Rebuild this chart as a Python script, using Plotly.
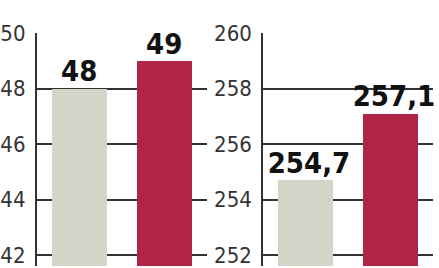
import plotly.graph_objects as go

categories = ["A", "B"]
left_values = [48, 49]
left_labels = ["48", "49"]
right_values = [254.7, 257.1]
right_labels = ["254,7", "257,1"]
left_ticks = [42, 44, 46, 48, 50]
right_ticks = [252, 254, 256, 258, 260]
colors = ["#d4d5c9", "#b02545"]

W, H = 439, 268
fig = go.Figure()
xs = [0, 1]
for i, (vals, labs) in enumerate([(left_values, left_labels), (right_values, right_labels)]):
    xa = "x" if i == 0 else "x2"
    ya = "y" if i == 0 else "y2"
    fig.add_trace(go.Bar(x=xs, y=vals, width=0.64, marker=dict(color=colors, line=dict(width=0)),
                         xaxis=xa, yaxis=ya, showlegend=False, hoverinfo="skip"))
    fig.add_trace(go.Scatter(x=[x + (0.04 if i == 1 else 0) for x in xs], y=vals, mode="text", text=labs,
                             textposition="top center", cliponaxis=False,
                             textfont=dict(family="DejaVu Sans Condensed", size=29, color="#111111", weight="bold"),
                             xaxis=xa, yaxis=ya, showlegend=False, hoverinfo="skip"))

top_px = 33
plot_h = H - top_px
scale = 28.0  # px per unit
common_y = dict(showgrid=True, gridcolor="#333333", gridwidth=1.5, showline=True, linecolor="#333333",
                linewidth=1.5, ticks="", zeroline=False, ticklabeloverflow="allow",
                tickfont=dict(family="DejaVu Sans Condensed", size=22, color="#333333", weight=300),
                ticklabelstandoff=5)
fig.update_layout(
    width=W, height=H, margin=dict(l=0, r=0, t=top_px, b=0),
    paper_bgcolor="white", plot_bgcolor="white",
    xaxis=dict(domain=[32 / W, 204 / W], range=[-0.5, 1.5], visible=False),
    xaxis2=dict(domain=[261 / W, 433 / W], range=[-0.5, 1.5], visible=False),
    yaxis=dict(range=[50 - plot_h / scale, 50], tickvals=left_ticks, **common_y),
    yaxis2=dict(range=[260 - plot_h / scale, 260], tickvals=right_ticks, anchor="x2", **common_y),
    bargap=0,
)
fig.write_html("out.html")
